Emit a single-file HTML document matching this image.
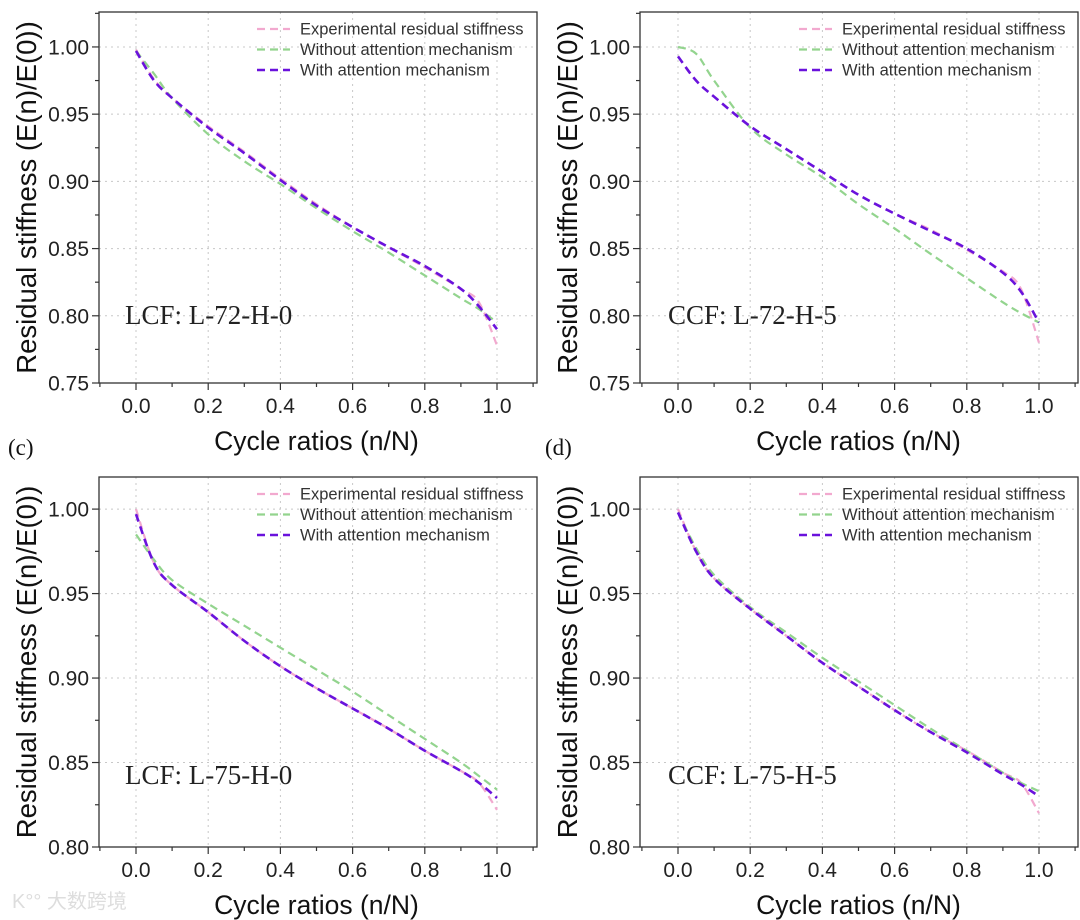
<!DOCTYPE html>
<html><head><meta charset="utf-8"><style>
body{margin:0;background:#fff;width:1080px;height:920px;overflow:hidden}
svg{display:block}
</style></head><body>
<svg id="fig" width="1080" height="920" xmlns="http://www.w3.org/2000/svg">
<text x="8" y="455" font-family="Liberation Serif, serif" font-size="23" fill="#111">(c)</text>
<text x="545" y="455" font-family="Liberation Serif, serif" font-size="23" fill="#111">(d)</text>
<text x="12" y="908" font-family="Liberation Sans, 'Noto Sans CJK SC', sans-serif" font-size="20" fill="#ddd">K°° 大数跨境</text>
</svg>
<script>
const xVals = [0,0.05,0.1,0.2,0.3,0.4,0.5,0.6,0.7,0.8,0.9,0.95,1.0];
const xTicks = ["0.0","0.2","0.4","0.6","0.8","1.0"];
const legendLabels = ["Experimental residual stiffness","Without attention mechanism","With attention mechanism"];
const yTicksTop = ["0.75","0.80","0.85","0.90","0.95","1.00"];
const yTicksBot = ["0.80","0.85","0.90","0.95","1.00"];
const panelTitles = ["LCF: L-72-H-0","CCF: L-72-H-5","LCF: L-75-H-0","CCF: L-75-H-5"];
// panel a
const aExp  = [0.998,0.976,0.962,0.941,0.922,0.902,0.883,0.866,0.851,0.836,0.820,0.810,0.778];
const aWo   = [0.997,0.980,0.962,0.935,0.915,0.898,0.880,0.863,0.847,0.830,0.813,0.805,0.795];
const aWith = [0.997,0.975,0.962,0.940,0.921,0.901,0.882,0.866,0.851,0.837,0.820,0.807,0.790];
// panel b
const bExp  = [0.993,0.975,0.963,0.941,0.924,0.907,0.890,0.876,0.864,0.849,0.833,0.820,0.780];
const bWo   = [1.000,0.995,0.975,0.940,0.920,0.903,0.883,0.865,0.846,0.828,0.810,0.802,0.795];
const bWith = [0.993,0.975,0.963,0.941,0.924,0.907,0.890,0.876,0.863,0.850,0.832,0.818,0.795];
// panel c
const cExp  = [1.000,0.968,0.955,0.939,0.922,0.907,0.894,0.882,0.870,0.857,0.845,0.838,0.822];
const cWo   = [0.985,0.970,0.958,0.944,0.931,0.918,0.905,0.892,0.878,0.864,0.850,0.842,0.834];
const cWith = [0.997,0.968,0.955,0.939,0.922,0.907,0.894,0.882,0.870,0.857,0.845,0.838,0.829];
// panel d
const dExp  = [1.000,0.975,0.959,0.941,0.925,0.909,0.895,0.881,0.868,0.857,0.844,0.838,0.820];
const dWo   = [0.998,0.977,0.961,0.942,0.927,0.912,0.898,0.884,0.870,0.857,0.844,0.838,0.833];
const dWith = [0.998,0.975,0.959,0.941,0.925,0.909,0.895,0.881,0.868,0.856,0.843,0.837,0.830];

const NS="http://www.w3.org/2000/svg";
const svg=document.getElementById('fig');
function mk(t,a,p){const e=document.createElementNS(NS,t);for(const k in a)e.setAttribute(k,a[k]);(p||svg).appendChild(e);return e;}
const colors=["#f2a9cf","#93d48e","#6a12dc"];
const widths=[2.2,2.2,2.6];
const panels=[
 {ox:136,o1:497,L:99,R:537,T:12,B:383,y0:0.75,y1:1.026,yt:yTicksTop,ser:[aExp,aWo,aWith],lx:285,lab:[125,324]},
 {ox:678,o1:1039,L:640,R:1078,T:12,B:383,y0:0.75,y1:1.026,yt:yTicksTop,ser:[bExp,bWo,bWith],lx:827,lab:[668,324]},
 {ox:136,o1:497,L:99,R:537,T:477,B:847,y0:0.80,y1:1.019,yt:yTicksBot,ser:[cExp,cWo,cWith],lx:285,lab:[125,784]},
 {ox:678,o1:1039,L:640,R:1078,T:477,B:847,y0:0.80,y1:1.019,yt:yTicksBot,ser:[dExp,dWo,dWith],lx:827,lab:[668,784]}
];
const names=['a','b','c','d'];
panels.forEach((p,i)=>{
 const g=mk('g',{});
 
 
 const X=v=>p.ox+(p.o1-p.ox)*v;
 const Y=v=>p.B-(v-p.y0)/(p.y1-p.y0)*(p.B-p.T);
 for(let k=0;k<xTicks.length;k++){const x=X(parseFloat(xTicks[k]));
  const l=mk('line',{x1:x,x2:x,y1:p.T,y2:p.B,stroke:"#c8c8c8","stroke-dasharray":"2,4","stroke-width":1},g);
  }
 p.yt.forEach(t=>{const y=Y(parseFloat(t));
  const l=mk('line',{x1:p.L,x2:p.R,y1:y,y2:y,stroke:"#c8c8c8","stroke-dasharray":"2,4","stroke-width":1},g);
  });
 p.ser.forEach((s,j)=>{
  const pts=xVals.map((x,k)=>[X(x),Y(s[k])]);
  let d="M"+pts[0][0]+","+pts[0][1];
  for(let k=0;k<pts.length-1;k++){
   const p0=pts[Math.max(k-1,0)],p1=pts[k],p2=pts[k+1],p3=pts[Math.min(k+2,pts.length-1)];
   const c1=[p1[0]+(p2[0]-p0[0])/6,p1[1]+(p2[1]-p0[1])/6],c2=[p2[0]-(p3[0]-p1[0])/6,p2[1]-(p3[1]-p1[1])/6];
   d+=` C${c1[0]},${c1[1]} ${c2[0]},${c2[1]} ${p2[0]},${p2[1]}`;}
  const path=mk('path',{d:d,fill:"none",stroke:colors[j],"stroke-width":widths[j],"stroke-dasharray":"8,5"},g);
  
  
 });
 const fr=mk('rect',{x:p.L,y:p.T,width:p.R-p.L,height:p.B-p.T,fill:"none",stroke:"#333","stroke-width":1.3},g);
 
 for(let v=-0.1;v<=1.101;v+=0.1){const x=X(v);const major=Math.abs(Math.round(v*10)%2)===0;
  mk('line',{x1:x,x2:x,y1:p.B,y2:p.B+(major?7:4),stroke:"#333","stroke-width":1.2},g);}
 xTicks.forEach(t=>{const tx=mk('text',{x:X(parseFloat(t)),y:p.B+30,"text-anchor":"middle","font-family":"Liberation Sans, sans-serif","font-size":21,fill:"#222"},g);tx.textContent=t;
  });
 for(let v=p.y0;v<=p.y1+1e-6;v+=0.025){const y=Y(v);const major=Math.abs(Math.round(v*1000)%50)<1;
  mk('line',{x1:p.L,x2:p.L-(major?7:4),y1:y,y2:y,stroke:"#333","stroke-width":1.2},g);}
 p.yt.forEach(t=>{const ty=mk('text',{x:p.L-10,y:Y(parseFloat(t))+7.5,"text-anchor":"end","font-family":"Liberation Sans, sans-serif","font-size":21,fill:"#222"},g);ty.textContent=t;
  });
 const xt=mk('text',{x:(p.ox+p.o1)/2,y:p.B+67,"text-anchor":"middle","font-family":"Liberation Sans, sans-serif","font-size":26.5,fill:"#111"},g);
 xt.textContent="Cycle ratios (n/N)";
 const cy=(p.T+p.B)/2, cx=p.L-63;
 const yt=mk('text',{x:cx,y:cy,"text-anchor":"middle","font-family":"Liberation Sans, sans-serif","font-size":27.5,fill:"#111",transform:`rotate(-90 ${cx} ${cy})`},g);
 yt.textContent="Residual stiffness (E(n)/E(0))";
 const pt=mk('text',{x:p.lab[0],y:p.lab[1],"font-family":"Liberation Serif, serif","font-size":27,fill:"#222"},g);
 pt.textContent=panelTitles[i];
 legendLabels.forEach((lb,j)=>{const ly=p.T+17+j*20.5;
  const ll=mk('line',{x1:p.lx-28,x2:p.lx+5,y1:ly,y2:ly,stroke:colors[j],"stroke-width":widths[j],"stroke-dasharray":"8,5"},g);
  
  const lt=mk('text',{x:p.lx+15,y:ly+5.5,"font-family":"Liberation Sans, sans-serif","font-size":16.5,fill:"#333"},g);
  lt.textContent=lb;});
});
</script>
</body></html>
